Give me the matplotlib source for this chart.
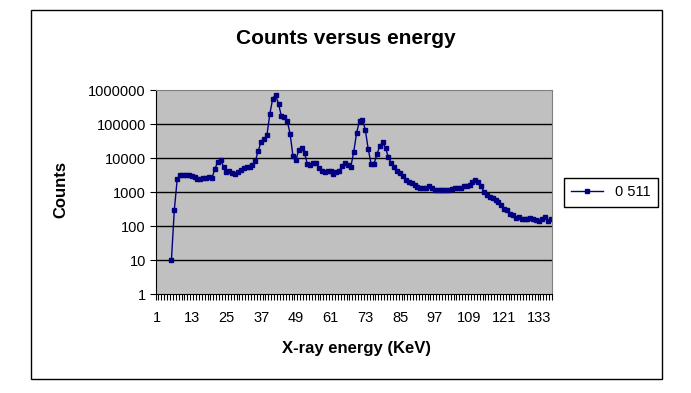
import matplotlib
matplotlib.use("Agg")
import matplotlib.pyplot as plt
from matplotlib.patches import Rectangle
import numpy as np

plt.rcParams['font.family'] = ['Liberation Sans', 'DejaVu Sans']

# データ（カテゴリ 1〜137、1〜5 は値なし）
channels = list(range(1, 138))
counts = [np.nan] * 5 + [
    10, 300, 2400, 3100, 3100, 3100, 3100, 3000, 2700, 2500,
    2500, 2600, 2600, 2700, 2600, 4700, 7800, 8700, 5600, 4000,
    4300, 3700, 3400, 3800, 4400, 5100, 5300, 5600, 6300, 8300,
    16500, 30000, 36000, 47000, 196000, 560000, 730000, 390000, 170000, 165000,
    126000, 52000, 11500, 8700, 17000, 19600, 14000, 6600, 6300, 7400,
    7400, 5200, 4300, 3900, 4300, 4200, 3500, 3800, 4300, 6000,
    7400, 6300, 5600, 15400, 56000, 123000, 134000, 68000, 18300, 6800,
    6800, 12800, 23000, 29000, 19200, 10500, 7000, 5400, 4300, 3700,
    2900, 2300, 2000, 1800, 1600, 1400, 1300, 1330, 1350, 1480,
    1300, 1170, 1170, 1170, 1170, 1170, 1170, 1250, 1280, 1330,
    1350, 1480, 1550, 1650, 2000, 2250, 2000, 1550, 980, 850,
    745, 670, 590, 520, 430, 315, 300, 235, 215, 180,
    185, 160, 165, 168, 170, 160, 150, 142, 165, 188,
    145, 162,
]
tick_labels = [str(v) for v in range(1, 134, 12)]
y_ticks = [1, 10, 100, 1000, 10000, 100000, 1000000]
series_name = "0 511"

W, H = 691, 393
fig = plt.figure(figsize=(W / 100, H / 100), dpi=100)

# 外枠
fig.patches.append(Rectangle((31 / W, 1 - 379 / H), (662 - 31) / W, (379 - 10) / H,
                             transform=fig.transFigure, fill=False,
                             edgecolor="black", linewidth=1))

ax = fig.add_axes([155.5 / W, 1 - 294.3 / H, (552 - 155.5) / W, (294.3 - 90) / H])
ax.set_facecolor("#C0C0C0")
ax.set_yscale("log")
ax.set_ylim(1, 1e6)
ax.set_xlim(0.5, 137.5)

ax.plot(channels, counts, color="#000080", linewidth=1, marker="s",
        markersize=3.5, label=series_name)

# 軸・目盛
ax.set_yticks(y_ticks)
ax.set_yticklabels([str(v) for v in y_ticks], fontsize=10.5)
ax.yaxis.set_minor_locator(matplotlib.ticker.NullLocator())
ax.set_xticks(range(1, 134, 12))
ax.set_xticklabels(tick_labels, fontsize=10.5)
ax.set_xticks(np.arange(0.5, 138, 1), minor=True)
ax.tick_params(axis="x", which="major", length=0, pad=12)
ax.tick_params(axis="x", which="minor", length=4, width=0.8, direction="out")
ax.tick_params(axis="y", which="major", length=4, width=0.8, direction="out", pad=3)

for v in y_ticks[1:-1]:
    ax.axhline(v, color="black", linewidth=1, zorder=1)

for s in ["top", "right"]:
    ax.spines[s].set_color("#808080")
for s in ["left", "bottom"]:
    ax.spines[s].set_color("black")

# テキスト
fig.text(346 / W, 1 - 38 / H, "Counts versus energy", fontsize=15,
         fontweight="bold", ha="center", va="center")
fig.text(356 / W, 1 - 348 / H, "X-ray energy (KeV)", fontsize=12,
         fontweight="bold", ha="center", va="center")
fig.text(61 / W, 1 - 190 / H, "Counts", fontsize=12, fontweight="bold",
         ha="center", va="center", rotation=90)

leg = fig.legend(loc="center", bbox_to_anchor=(611 / W, 1 - 192.5 / H),
                 fontsize=10.5, fancybox=False, framealpha=1, edgecolor="black",
                 handlelength=2.2, borderpad=0.5)
leg.get_frame().set_linewidth(1)

plt.savefig("out.png", dpi=100)
